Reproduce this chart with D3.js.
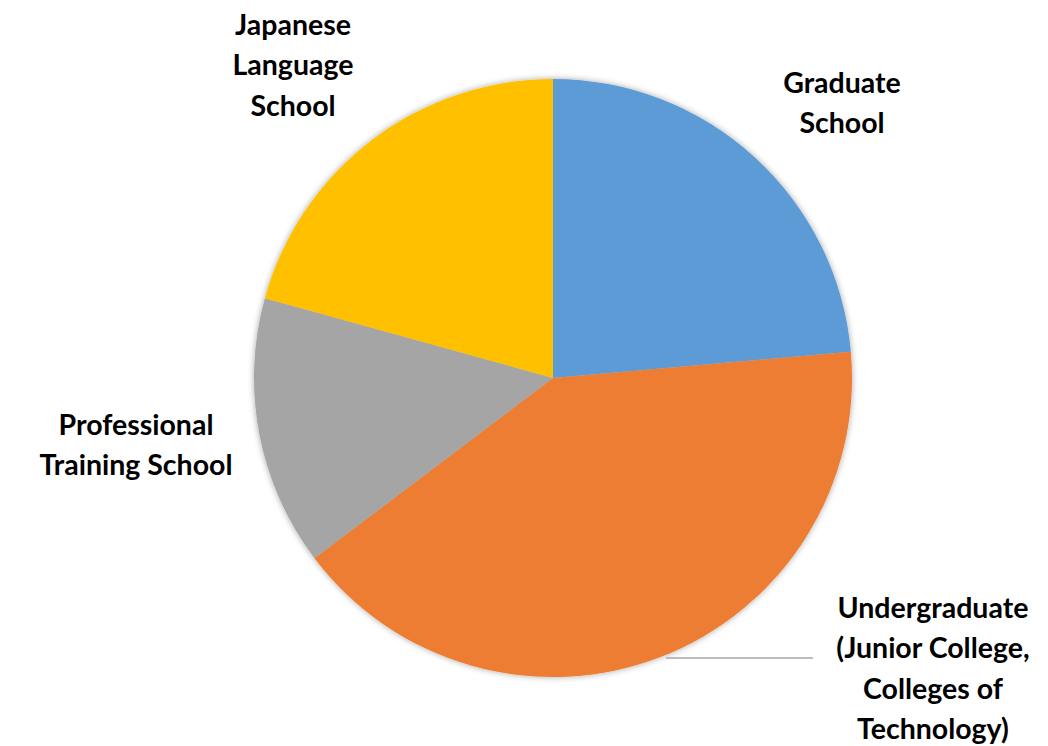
<!DOCTYPE html>
<html><head><meta charset="utf-8">
<script src="https://cdn.jsdelivr.net/npm/d3@7"></script>
<style>body{margin:0;background:#fff;} svg{display:block;}</style>
</head><body>
<svg id="c" width="1048" height="746"></svg>
<script>
const categories = ["Graduate School", "Undergraduate (Junior College, Colleges of Technology)", "Professional Training School", "Japanese Language School"];
const values = [23.6, 41.1, 14.6, 20.7];
const colors = ["#5B9BD5", "#ED7D31", "#A5A5A5", "#FFC000"];
const labelLines = [["Graduate", "School"], ["Undergraduate", "(Junior College,", "Colleges of", "Technology)"], ["Professional", "Training School"], ["Japanese", "Language", "School"]];
const labelPos = [[842, 83], [933, 608], [136, 425], [293, 25]];

const svg = d3.select("#c");
const cx = 553, cy = 378, r = 299;
const defs = svg.append("defs");
const f = defs.append("filter").attr("id", "sh").attr("x", "-10%").attr("y", "-10%").attr("width", "120%").attr("height", "120%");
f.append("feDropShadow").attr("dx", 0).attr("dy", 0).attr("stdDeviation", 3).attr("flood-color", "#000").attr("flood-opacity", 0.35);

const pie = d3.pie().sort(null).value(d => d)(values);
const arc = d3.arc().innerRadius(0).outerRadius(r);
const g = svg.append("g").attr("transform", `translate(${cx},${cy})`).attr("filter", "url(#sh)");
g.selectAll("path").data(pie).join("path").attr("d", arc).attr("fill", (d, i) => colors[i]);

// leader line for undergraduate label
svg.append("line")
  .attr("x1", 666).attr("y1", 658)
  .attr("x2", 813).attr("y2", 658)
  .attr("stroke", "#a6a6a6").attr("stroke-width", 1.5);

labelLines.forEach((lines, i) => {
  const t = svg.append("text").attr("text-anchor", "middle")
    .attr("font-family", "Lato, 'Open Sans', sans-serif").attr("font-weight", "bold")
    .attr("font-size", 28.5).attr("fill", "#000");
  lines.forEach((l, j) => {
    t.append("tspan").attr("x", labelPos[i][0]).attr("y", labelPos[i][1] + j * 40.5).attr("dy", "0.35em").text(l);
  });
});
</script>
</body></html>
